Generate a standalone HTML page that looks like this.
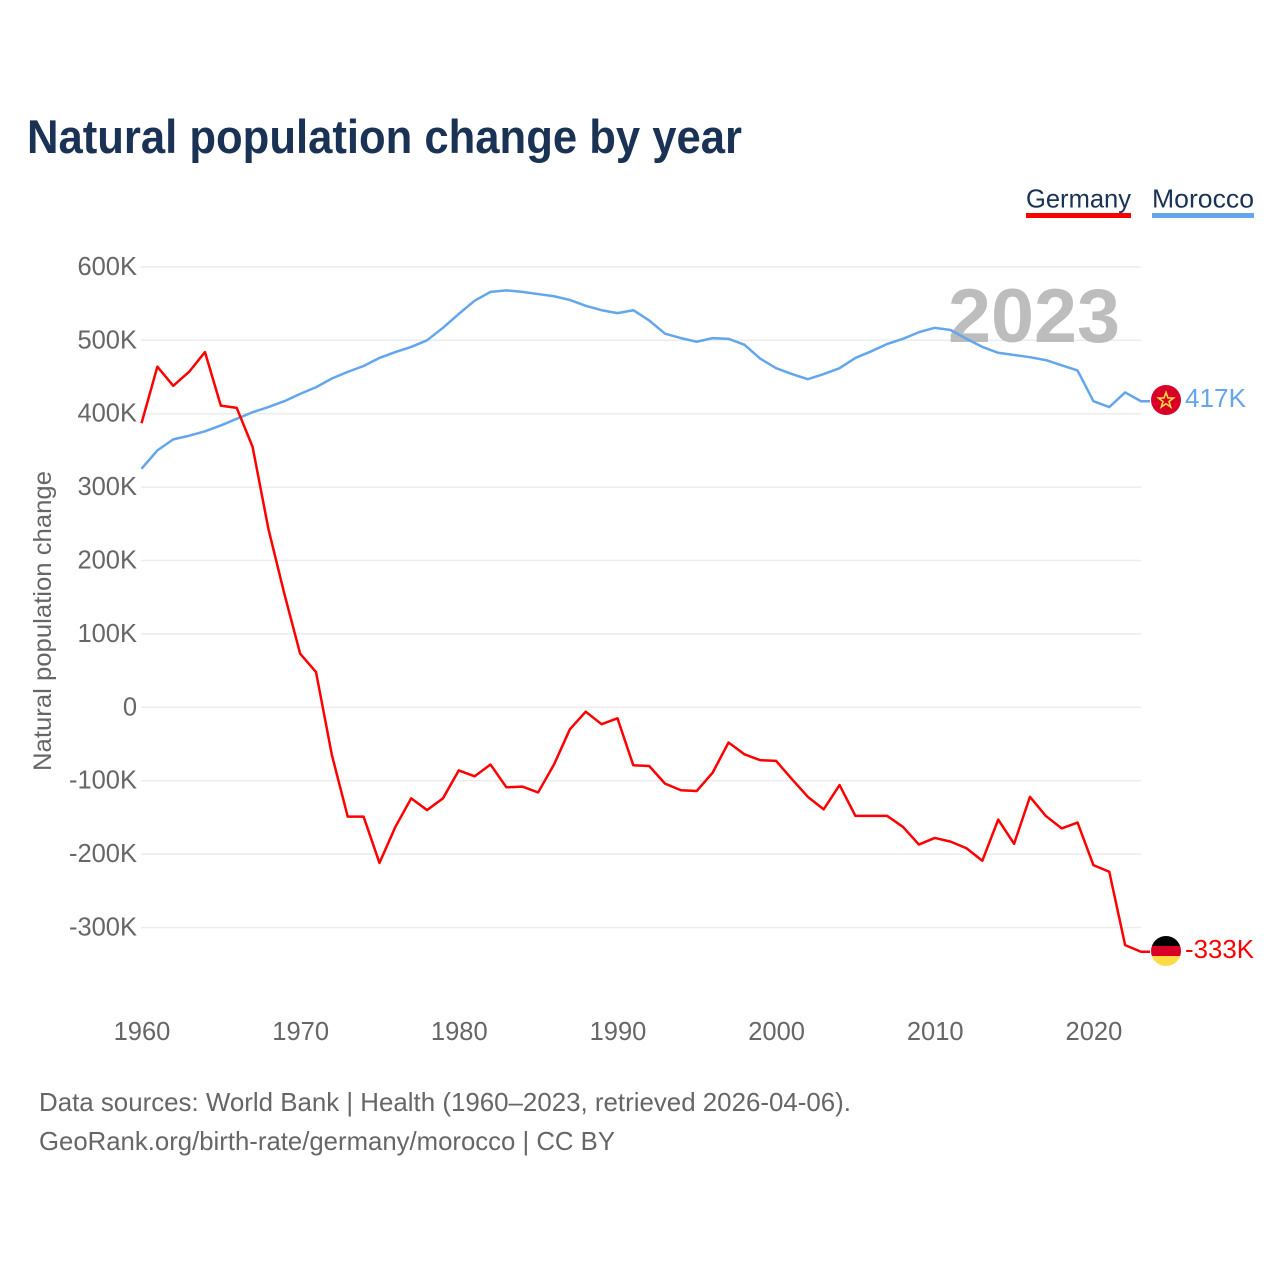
<!DOCTYPE html>
<html lang="en">
<head>
<meta charset="utf-8">
<title>Natural population change by year</title>
<style>
html,body{margin:0;padding:0;background:#fff;}
svg{display:block;font-family:"Liberation Sans",Arial,sans-serif;}
</style>
</head>
<body>
<svg id="chart" width="1280" height="1280" viewBox="0 0 1280 1280" xmlns="http://www.w3.org/2000/svg">
  <rect x="0" y="0" width="1280" height="1280" fill="#ffffff"/>
  <text x="27" y="153" font-size="47" font-weight="700" fill="#1a3354" textLength="715" lengthAdjust="spacingAndGlyphs">Natural population change by year</text>

  <g>
    <text x="1026" y="207.5" font-size="26" fill="#1a3354" textLength="105" lengthAdjust="spacingAndGlyphs">Germany</text>
    <rect x="1026" y="213" width="105" height="5" fill="#ff0000"/>
  </g>
  <g>
    <text x="1152" y="207.5" font-size="26" fill="#1a3354" textLength="102" lengthAdjust="spacingAndGlyphs">Morocco</text>
    <rect x="1152" y="213" width="102" height="5" fill="#63a6ec"/>
  </g>

  <g id="grid"></g>
  <g id="yticks"></g>
  <g id="xticks"></g>

  <text transform="translate(51,621) rotate(-90)" text-anchor="middle" font-size="25" fill="#666666" textLength="300" lengthAdjust="spacingAndGlyphs">Natural population change</text>
  <text x="948" y="342" font-size="76" font-weight="700" fill="#b4b4b4" fill-opacity="0.88" textLength="172" lengthAdjust="spacingAndGlyphs">2023</text>

  <g id="series"></g>

  <g id="flag-morocco">
    <circle cx="1166" cy="400" r="15" fill="#d80027"/>
    <polygon points="1166,392.5 1168,398 1173.5,398 1169,401.5 1170.7,407 1166,403.7 1161.3,407 1163,401.5 1158.5,398 1164,398" fill="none" stroke="#ffda44" stroke-width="1.6"/>
  </g>
  <g id="flag-germany">
    <clipPath id="germany-clip"><circle cx="1166" cy="951" r="15"/></clipPath>
    <g clip-path="url(#germany-clip)">
      <rect x="1151" y="936" width="30" height="10" fill="#000000"/>
      <rect x="1151" y="946" width="30" height="10" fill="#d80027"/>
      <rect x="1151" y="956" width="30" height="10" fill="#ffda44"/>
    </g>
  </g>
  <text id="label-morocco" x="1185" y="407" font-size="25.5" fill="#63a6ec" textLength="61" lengthAdjust="spacingAndGlyphs">417K</text>
  <text id="label-germany" x="1185" y="958" font-size="25.5" fill="#ff0000" textLength="69" lengthAdjust="spacingAndGlyphs">-333K</text>

  <text x="39" y="1111" font-size="26" fill="#666666" textLength="812" lengthAdjust="spacingAndGlyphs">Data sources: World Bank | Health (1960–2023, retrieved 2026-04-06).</text>
  <text x="39" y="1150" font-size="26" fill="#666666" textLength="576" lengthAdjust="spacingAndGlyphs">GeoRank.org/birth-rate/germany/morocco | CC BY</text>
</svg>
<script>
const startYear = 1960;
const endYear = 2023;
const xTickYears = [1960, 1970, 1980, 1990, 2000, 2010, 2020];
const yTickValues = [600, 500, 400, 300, 200, 100, 0, -100, -200, -300];
const germanyValues = [387,464,438,457,484,411,408,355,243,155,73,48,-65,-149,-149,-212,-163,-124,-140,-124,-86,-94,-78,-109,-108,-116,-78,-30,-6,-23,-15,-79,-80,-104,-113,-114,-89,-48,-64,-72,-73,-98,-122,-139,-106,-148,-148,-148,-163,-187,-178,-183,-192,-209,-153,-186,-122,-148,-165,-157,-215,-224,-324,-333];
const moroccoValues = [325,350,365,370,376,384,393,402,409,417,427,436,448,457,465,476,484,491,500,517,536,554,566,568,566,563,560,555,547,541,537,541,527,509,503,498,503,502,494,475,462,454,447,454,462,476,485,495,502,511,517,514,502,491,483,480,477,473,466,459,417,409,429,417];

const NS = 'http://www.w3.org/2000/svg';
function xScale(year) { return 141.5 + (year - startYear) * (1141 - 141.5) / (endYear - startYear); }
function yScale(v) { return 707.3 - v * 0.734; }
function fmtY(v) { return v === 0 ? '0' : v + 'K'; }

const grid = document.getElementById('grid');
const yticks = document.getElementById('yticks');
const xticks = document.getElementById('xticks');
const series = document.getElementById('series');

yTickValues.forEach(function (v) {
  const line = document.createElementNS(NS, 'line');
  
  
  line.setAttribute('x1', 141);
  line.setAttribute('x2', 1141);
  line.setAttribute('y1', yScale(v));
  line.setAttribute('y2', yScale(v));
  line.setAttribute('stroke', '#ececec');
  line.setAttribute('stroke-width', 1.5);
  grid.appendChild(line);

  const t = document.createElementNS(NS, 'text');
  
  
  t.setAttribute('x', 137);
  t.setAttribute('y', yScale(v) + 8);
  t.setAttribute('text-anchor', 'end');
  t.setAttribute('font-size', 25.5);
  t.setAttribute('fill', '#666666');
  t.textContent = fmtY(v);
  yticks.appendChild(t);
});

xTickYears.forEach(function (yr) {
  const t = document.createElementNS(NS, 'text');
  
  
  t.setAttribute('x', xScale(yr) + 0.5);
  t.setAttribute('y', 1040);
  t.setAttribute('text-anchor', 'middle');
  t.setAttribute('font-size', 25.5);
  t.setAttribute('fill', '#666666');
  t.textContent = yr;
  xticks.appendChild(t);
});

function drawSeries(values, color, name) {
  const pts = values.map(function (v, i) { return xScale(startYear + i).toFixed(2) + ',' + yScale(v).toFixed(2); });
  const last = yScale(values[values.length - 1]);
  pts.push('1150,' + last.toFixed(2));
  const poly = document.createElementNS(NS, 'polyline');
  
  
  poly.setAttribute('points', pts.join(' '));
  poly.setAttribute('fill', 'none');
  poly.setAttribute('stroke', color);
  poly.setAttribute('stroke-width', 2.5);
  poly.setAttribute('stroke-linejoin', 'round');
  series.appendChild(poly);
}
drawSeries(moroccoValues, '#63a6ec', 'line-morocco');
drawSeries(germanyValues, '#ff0000', 'line-germany');
</script>
</body>
</html>
